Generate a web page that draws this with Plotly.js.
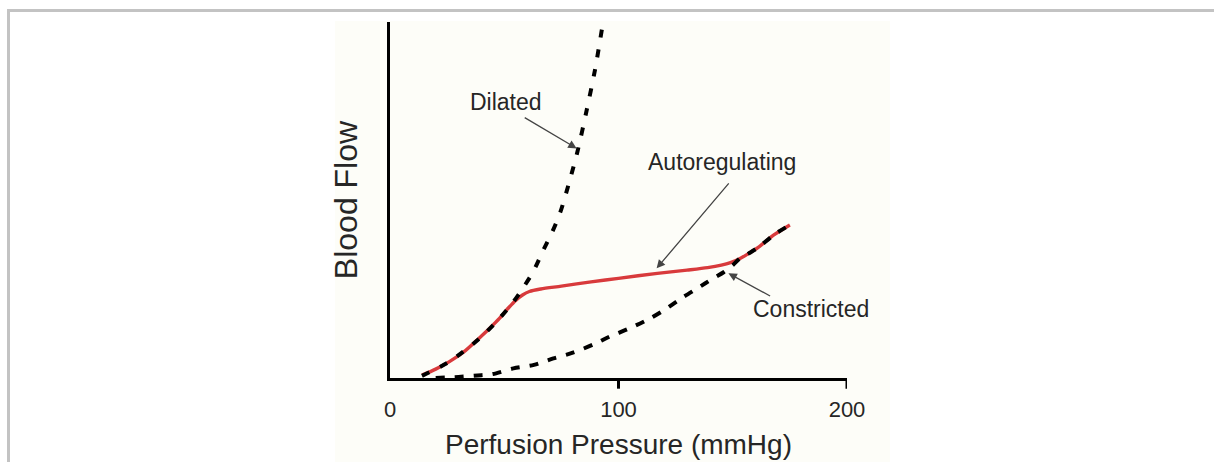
<!DOCTYPE html>
<html>
<head>
<meta charset="utf-8">
<script src="https://cdn.plot.ly/plotly-3.0.1.min.js"></script>
<style>html,body{margin:0;padding:0;background:#fff;}#chart{width:1214px;height:462px;}</style>
</head>
<body>
<div id="chart"></div>
<script>
// Perfusion pressure (mmHg) vs blood flow (arbitrary units, 0-100)
const autoregPressure = [14, 20, 26, 33, 39, 44, 48, 52, 55, 58, 61, 66, 75, 88, 100, 117, 130, 139, 145, 149, 153, 157, 161, 168, 175];
const autoregFlow     = [0.8, 2.5, 4.6, 7.7, 11.2, 14.2, 16.8, 19.8, 21.8, 23.3, 24.3, 25.0, 25.8, 27.0, 28.0, 29.4, 30.3, 31.0, 31.7, 32.4, 33.5, 35.0, 36.6, 40.2, 43.0];

const dilatedPressure = [14, 26, 39, 48, 54, 57.6, 62.7, 67, 71, 74.5, 78, 82, 86, 89.7, 93];
const dilatedFlow     = [0.6, 4.6, 11.0, 16.8, 21.4, 24.7, 29.9, 35.8, 41.0, 46.5, 54.0, 63.5, 75.0, 86.5, 99.0];

const constrictedPressure = [20, 30, 40, 45, 54, 63, 71.5, 80, 90, 96, 105, 114, 121, 128, 134, 138, 142, 146, 150, 153, 157, 161, 168, 175];
const constrictedFlow     = [0.0, 0.3, 0.8, 1.1, 2.7, 3.7, 5.5, 7.1, 9.7, 11.6, 14.0, 16.8, 19.5, 22.6, 25.0, 26.6, 28.2, 29.7, 31.7, 33.5, 35.0, 36.6, 40.2, 43.0];

const tickValues = [0, 100, 200];
const tickLabels = ['0', '100', '200'];
const tickMarks = [100, 200];

const FONT = 'Liberation Sans, Arial, Helvetica, sans-serif';
const TXT = '#262626';

const traces = [
  {x: autoregPressure, y: autoregFlow, mode: 'lines', name: 'Autoregulating',
   line: {color: '#d83a3c', width: 3.4, shape: 'spline', smoothing: 0.8}},
  {x: dilatedPressure, y: dilatedFlow, mode: 'lines', name: 'Dilated',
   line: {color: '#000', width: 4, dash: '8px,12px', shape: 'spline', smoothing: 0.8}},
  {x: constrictedPressure, y: constrictedFlow, mode: 'lines', name: 'Constricted',
   line: {color: '#000', width: 4, dash: '9px,10px', shape: 'spline', smoothing: 0.8}}
];

// paper coordinates here are relative to the plot area (390..847 x 22..378 px)
const shapes = [
  {type: 'rect', xref: 'paper', yref: 'paper', x0: -0.1204, x1: 1.0941, y0: -0.24, y1: 1.0028,
   fillcolor: '#fdfdf8', line: {width: 0}, layer: 'below'},
  {type: 'line', xref: 'paper', yref: 'paper', x0: -0.838, x1: 1.81, y0: 1.0323, y1: 1.0323,
   line: {color: '#c3c3c3', width: 3}},
  {type: 'line', xref: 'paper', yref: 'paper', x0: -0.8348, x1: -0.8348, y0: -0.24, y1: 1.0323,
   line: {color: '#c3c3c3', width: 3}}
];
tickMarks.forEach(v => shapes.push({type: 'line', xref: 'x', yref: 'y domain', x0: v, x1: v, y0: 0, y1: -0.03,
  line: {color: '#000', width: 3}}));

function label(text, x, y) {
  return {text: text, x: x, y: y, xref: 'x', yref: 'y', showarrow: false,
          font: {family: FONT, size: 23, color: TXT}, xanchor: 'center', yanchor: 'middle'};
}
function arrow(x, y, ax, ay) {
  return {text: '', x: x, y: y, ax: ax, ay: ay, xref: 'x', yref: 'y', axref: 'x', ayref: 'y',
          showarrow: true, arrowhead: 2, arrowsize: 1.3, arrowwidth: 1.3, arrowcolor: '#444'};
}

const annotations = [
  label('Dilated', 50.8, 77.5),
  label('Autoregulating', 145.2, 60.7),
  label('Constricted', 184.2, 19.3),
  arrow(81.7, 64.5, 58.3, 73.4),
  arrow(116.7, 30.8, 148.8, 55.1),
  arrow(148.1, 29.4, 167.0, 22.8)
];

const layout = {
  width: 1214, height: 462,
  margin: {l: 390, r: 367, t: 22, b: 84, pad: 0},
  paper_bgcolor: '#ffffff',
  plot_bgcolor: 'rgba(0,0,0,0)',
  showlegend: false,
  xaxis: {
    range: [0, 200], showgrid: false, zeroline: false,
    showline: true, linecolor: '#000', linewidth: 3,
    tickvals: tickValues, ticktext: tickLabels,
    ticks: 'outside', ticklen: 10, tickcolor: 'rgba(0,0,0,0)',
    tickfont: {family: FONT, size: 22, color: TXT},
    title: {text: 'Perfusion Pressure (mmHg)', font: {family: FONT, size: 28, color: TXT}, standoff: 13},
    fixedrange: true
  },
  yaxis: {
    range: [0, 100], showgrid: false, zeroline: false,
    showline: true, linecolor: '#000', linewidth: 3,
    showticklabels: false, ticks: '',
    title: {text: 'Blood Flow', font: {family: FONT, size: 32, color: TXT}, standoff: 20},
    fixedrange: true
  },
  shapes: shapes,
  annotations: annotations
};

Plotly.newPlot('chart', traces, layout, {displayModeBar: false, staticPlot: true});
</script>
</body>
</html>
